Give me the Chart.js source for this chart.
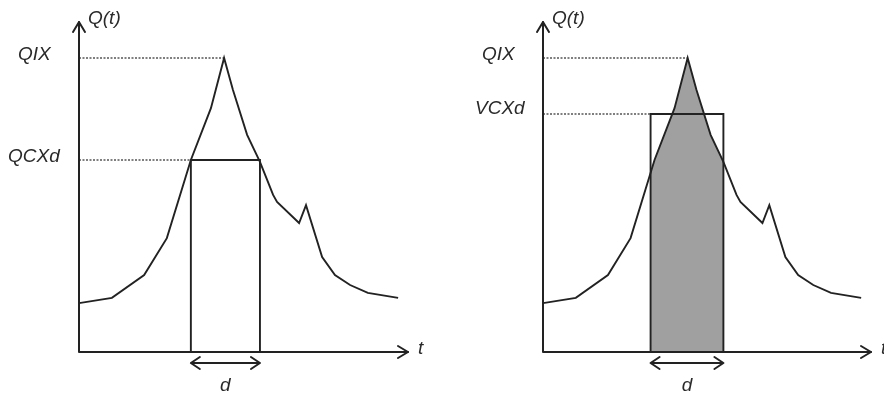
<!DOCTYPE html>
<html>
<head>
<meta charset="utf-8">
<script src="https://cdn.jsdelivr.net/npm/chart.js@4/dist/chart.umd.min.js"></script>
<style>
  html, body { margin: 0; padding: 0; background: #fff; }
  #wrap { position: relative; width: 884px; height: 394px; overflow: hidden; background: #fff; }
  canvas { position: absolute; top: 0; }
  #esq { left: 0; }
  #dir { left: 442px; }
</style>
</head>
<body>
<div id="wrap">
  <canvas id="esq" width="442" height="394"></canvas>
  <canvas id="dir" width="442" height="394"></canvas>
</div>
<script>
// ===== Dados do hidrograma =====
const tempos = [0, 10, 19.8, 26.7, 34, 40.1, 44.1, 46.8, 51.1, 55, 59, 60.2, 66.9, 69, 73.9, 77.8, 82.4, 87.8, 97];
const vazoes = [14.8, 16.4, 23.3, 34.5, 58.2, 73.9, 89.1, 79.4, 65.8, 57.6, 47.6, 45.5, 39.1, 44.5, 28.8, 23.3, 20.3, 17.9, 16.4];

// nível e janela de duração d de cada painel
const niveis = [58.2, 72.1];
const rotulosNivel = ['QCXd', 'VCXd'];
const inicioD = [34, 32.8];
const fimD = [55, 55];

const COR_LINHA = '#222';
const COR_PONTILHADO = '#555';
const COR_CINZA = '#a0a0a0';
const FONTE = 'italic 19px "Liberation Sans", Arial, sans-serif';

const qix = Math.max(...vazoes);
const tPico = tempos[vazoes.indexOf(qix)];

// ===== Plugin: eixos com setas, rótulos, área cinza e seta de d =====
function criarPlugin(painel) {
  return {
    id: 'desenho',
    beforeDatasetsDraw(chart) {
      if (painel !== 1) return;
      const { ctx, chartArea: { top, bottom }, scales: { x } } = chart;
      const x0 = x.getPixelForValue(inicioD[painel]);
      const x1 = x.getPixelForValue(fimD[painel]);
      const pts = chart.getDatasetMeta(0).data;
      ctx.save();
      ctx.beginPath();
      ctx.rect(x0, top, x1 - x0, bottom - top);
      ctx.clip();
      ctx.beginPath();
      ctx.moveTo(pts[0].x, bottom);
      pts.forEach((p) => ctx.lineTo(p.x, p.y));
      ctx.lineTo(pts[pts.length - 1].x, bottom);
      ctx.closePath();
      ctx.fillStyle = COR_CINZA;
      ctx.fill();
      ctx.restore();
    },
    afterDatasetsDraw(chart) {
      const { ctx, chartArea: { left, right, top, bottom }, scales: { x, y } } = chart;
      ctx.save();
      ctx.strokeStyle = COR_LINHA;
      ctx.lineWidth = 2;
      ctx.lineCap = 'round';
      ctx.lineJoin = 'round';

      // eixos
      ctx.beginPath();
      ctx.moveTo(left, top);
      ctx.lineTo(left, bottom);
      ctx.lineTo(right, bottom);
      ctx.stroke();
      // pontas das setas
      ctx.beginPath();
      ctx.moveTo(left - 6, top + 10);
      ctx.lineTo(left, top);
      ctx.lineTo(left + 6, top + 10);
      ctx.moveTo(right - 10, bottom - 6);
      ctx.lineTo(right, bottom);
      ctx.lineTo(right - 10, bottom + 6);
      ctx.stroke();

      // seta dupla da duração d
      const x0 = x.getPixelForValue(inicioD[painel]);
      const x1 = x.getPixelForValue(fimD[painel]);
      const ys = bottom + 11;
      ctx.beginPath();
      ctx.moveTo(x0, ys);
      ctx.lineTo(x1, ys);
      ctx.moveTo(x0 + 9, ys - 6);
      ctx.lineTo(x0, ys);
      ctx.lineTo(x0 + 9, ys + 6);
      ctx.moveTo(x1 - 9, ys - 6);
      ctx.lineTo(x1, ys);
      ctx.lineTo(x1 - 9, ys + 6);
      ctx.stroke();

      // textos
      ctx.font = FONTE;
      ctx.fillStyle = '#2a2a2a';
      ctx.textBaseline = 'alphabetic';
      ctx.textAlign = 'left';
      ctx.fillText('Q(t)', left + 9, 24);
      ctx.fillText('QIX', left - 61, y.getPixelForValue(qix) + 2);
      const yNivel = y.getPixelForValue(niveis[painel]);
      if (painel === 0) ctx.fillText(rotulosNivel[painel], left - 71, yNivel + 2);
      else ctx.fillText(rotulosNivel[painel], left - 68, yNivel);
      ctx.fillText('t', right + 10, bottom + 2);
      ctx.textAlign = 'center';
      ctx.fillText('d', (x0 + x1) / 2, bottom + 39);
      ctx.restore();
    },
  };
}

// ===== Montagem de cada painel =====
function montarPainel(canvasId, painel, padding) {
  const curva = tempos.map((t, i) => ({ x: t, y: vazoes[i] }));
  const nivel = niveis[painel];
  const ini = inicioD[painel];
  const fim = fimD[painel];

  return new Chart(document.getElementById(canvasId), {
    type: 'line',
    data: {
      datasets: [
        { data: curva, borderColor: COR_LINHA, borderWidth: 1.9 },
        { data: [{ x: 0, y: qix }, { x: tPico, y: qix }], borderColor: COR_PONTILHADO, borderWidth: 1.5, borderDash: [2, 1.5] },
        { data: [{ x: 0, y: nivel }, { x: ini, y: nivel }], borderColor: COR_PONTILHADO, borderWidth: 1.5, borderDash: [2, 1.5] },
        { data: [{ x: ini, y: 0 }, { x: ini, y: nivel }, { x: fim, y: nivel }, { x: fim, y: 0 }], borderColor: COR_LINHA, borderWidth: 1.9 },
      ],
    },
    options: {
      responsive: false,
      animation: false,
      devicePixelRatio: 1,
      layout: { padding },
      elements: { point: { radius: 0 }, line: { tension: 0, fill: false } },
      scales: {
        x: { type: 'linear', min: 0, max: 100, display: false },
        y: { type: 'linear', min: 0, max: 100, display: false },
      },
      plugins: { legend: { display: false }, tooltip: { enabled: false } },
    },
    plugins: [criarPlugin(painel)],
  });
}

montarPainel('esq', 0, { left: 79, right: 34, top: 22, bottom: 42 });
montarPainel('dir', 1, { left: 101, right: 13, top: 22, bottom: 42 });
</script>
</body>
</html>
